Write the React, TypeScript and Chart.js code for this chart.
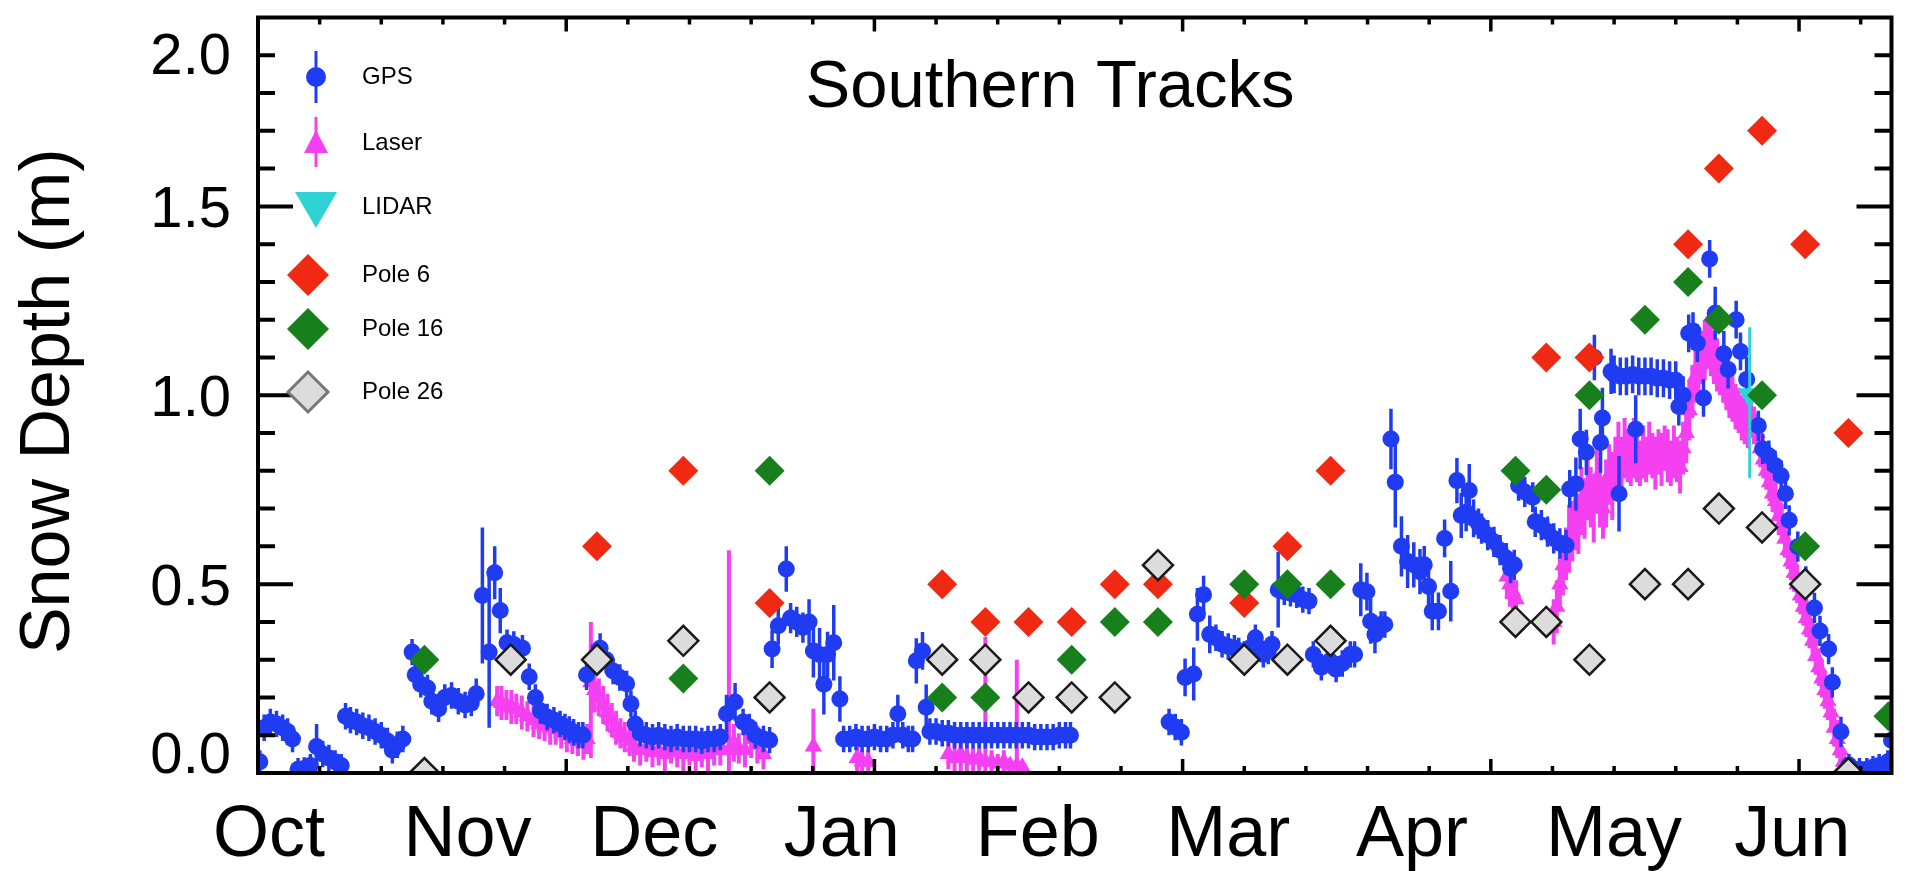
import React, { useEffect, useRef } from 'react';
import { Chart, registerables } from 'chart.js';

Chart.register(...registerables);

// ---------- axis / label data ----------
const X_MIN = 0;
const X_MAX = 265; // days since 1 Oct
const Y_MIN = 0;
const Y_MAX = 2;
const monthLabels = ['Oct', 'Nov', 'Dec', 'Jan', 'Feb', 'Mar', 'Apr', 'May', 'Jun'];
const monthLabelDays = [1.8, 34, 64.3, 94.7, 126.5, 157.4, 187.2, 220, 248.9];
const yTickValues = [0, 0.5, 1.0, 1.5, 2.0];
const yTickLabels = ['0.0', '0.5', '1.0', '1.5', '2.0'];
const yMinorStep = 0.1;
const xMinorStep = 10;
const xMajorStep = 50;
const chartTitle = 'Southern Tracks';
const yAxisTitle = 'Snow Depth (m)';
const legendLabels = ['GPS', 'Laser', 'LIDAR', 'Pole 6', 'Pole 16', 'Pole 26'];

// ---------- series data: [day, depth, err(down), errUp?] ----------
const gps: number[][] = [
  [0.3, 0.03, 0.03], [1, 0.12, 0.035], [2, 0.135, 0.035], [3, 0.13, 0.035], [4, 0.12, 0.035], [4.8, 0.11, 0.035], [5.6, 0.09, 0.035],
  [6.5, 0.01, 0.03], [7.5, 0.012, 0.03], [8.5, 0.02, 0.03], [9.5, 0.07, 0.06], [10.5, 0.05, 0.035], [11.5, 0.04, 0.035], [12.5, 0.03, 0.03], [13.5, 0.02, 0.03],
  [14.2, 0.15, 0.035], [15, 0.14, 0.035], [16, 0.135, 0.035], [17, 0.125, 0.035], [18, 0.12, 0.035], [19, 0.11, 0.035], [20, 0.1, 0.035], [21, 0.085, 0.035], [21.8, 0.06, 0.035], [22.6, 0.075, 0.035], [23.5, 0.09, 0.035],
  [25, 0.32, 0.035], [25.5, 0.26, 0.035], [26.4, 0.235, 0.035], [27.5, 0.225, 0.035], [28.2, 0.19, 0.035], [29.3, 0.17, 0.035], [30.3, 0.2, 0.035], [31.4, 0.205, 0.035], [32.5, 0.19, 0.035], [33.6, 0.18, 0.035], [34.6, 0.185, 0.035], [35.4, 0.21, 0.04],
  [36.4, 0.47, 0.18], [37.5, 0.32, 0.2], [38.4, 0.53, 0.07], [39.3, 0.43, 0.06], [40.4, 0.345, 0.035], [41.5, 0.34, 0.035], [42.9, 0.33, 0.035], [44, 0.255, 0.035], [45, 0.2, 0.035], [45.8, 0.165, 0.035], [46.9, 0.148, 0.035], [48, 0.14, 0.035], [49, 0.13, 0.035], [49.8, 0.122, 0.035], [50.5, 0.115, 0.035], [51.2, 0.108, 0.035], [52, 0.1, 0.035], [52.7, 0.1, 0.035],
  [53.3, 0.26, 0.04], [54.3, 0.3, 0.04], [55.5, 0.33, 0.04], [56.5, 0.3, 0.035], [57.6, 0.27, 0.035], [58.7, 0.253, 0.035], [59.8, 0.236, 0.035], [60.5, 0.183, 0.035], [61.2, 0.13, 0.035],
  [62, 0.105, 0.035], [63, 0.1, 0.035], [64, 0.095, 0.035], [65, 0.1, 0.035], [66, 0.095, 0.035], [67, 0.09, 0.035], [68, 0.095, 0.035], [69, 0.09, 0.035], [70, 0.09, 0.035], [71, 0.09, 0.035], [72, 0.085, 0.035], [73, 0.09, 0.035], [74, 0.09, 0.035], [75, 0.095, 0.035],
  [76, 0.157, 0.05], [77.4, 0.188, 0.05], [78.7, 0.135, 0.035], [79.7, 0.122, 0.035], [80.7, 0.1, 0.035], [82, 0.09, 0.035], [83, 0.087, 0.035],
  [83.4, 0.328, 0.05], [84.4, 0.39, 0.05], [85.7, 0.54, 0.06], [86.4, 0.41, 0.04], [87.4, 0.4, 0.04], [88.4, 0.385, 0.04], [89.4, 0.4, 0.06], [90.1, 0.323, 0.07], [91.1, 0.314, 0.07], [91.8, 0.235, 0.08], [92.4, 0.314, 0.06], [93.4, 0.345, 0.1], [94.4, 0.196, 0.06],
  [95, 0.09, 0.035], [96, 0.09, 0.035], [97, 0.095, 0.035], [98, 0.09, 0.035], [99, 0.09, 0.035], [100, 0.095, 0.035], [101, 0.09, 0.035], [102, 0.09, 0.035], [103, 0.1, 0.035], [103.8, 0.157, 0.05], [104.6, 0.1, 0.035], [105.5, 0.09, 0.035], [106.2, 0.09, 0.035],
  [106.8, 0.297, 0.06], [107.8, 0.323, 0.05], [108.4, 0.174, 0.06],
  [109, 0.11, 0.035], [110, 0.11, 0.035], [111, 0.105, 0.035], [112, 0.105, 0.035], [113, 0.1, 0.035], [114, 0.1, 0.035], [115, 0.1, 0.035], [116, 0.1, 0.035], [117, 0.1, 0.035], [118, 0.1, 0.035], [119, 0.1, 0.035], [120, 0.1, 0.035], [121, 0.1, 0.035], [122, 0.1, 0.035], [123, 0.1, 0.035], [124, 0.1, 0.035], [125, 0.1, 0.035], [126, 0.095, 0.035], [127, 0.095, 0.035], [128, 0.095, 0.035], [129, 0.095, 0.035], [130, 0.1, 0.035], [131, 0.1, 0.035], [131.8, 0.1, 0.035],
  [147.8, 0.135, 0.035], [148.8, 0.122, 0.035], [149.8, 0.108, 0.035],
  [150.4, 0.253, 0.05], [151.8, 0.262, 0.07], [152.4, 0.42, 0.07], [153.4, 0.472, 0.05], [154.4, 0.367, 0.05], [155.4, 0.358, 0.035], [156.4, 0.341, 0.035], [157.4, 0.335, 0.035], [158.4, 0.33, 0.035], [159.1, 0.323, 0.035], [160, 0.314, 0.035], [160.8, 0.33, 0.035], [161.8, 0.358, 0.035], [162.5, 0.33, 0.035], [163.1, 0.314, 0.035], [163.9, 0.323, 0.035], [164.5, 0.341, 0.035], [165.5, 0.485, 0.1], [166.5, 0.48, 0.035], [167.5, 0.476, 0.035], [168.5, 0.472, 0.035], [169.5, 0.459, 0.035], [170.5, 0.455, 0.035],
  [171.2, 0.314, 0.035], [172.5, 0.28, 0.035], [173.9, 0.297, 0.035], [174.9, 0.275, 0.035], [175.9, 0.29, 0.035], [177.2, 0.314, 0.035], [177.9, 0.314, 0.035],
  [178.9, 0.485, 0.07], [179.9, 0.48, 0.05], [180.5, 0.402, 0.06], [181.2, 0.367, 0.05], [182.2, 0.393, 0.035], [182.8, 0.393, 0.035],
  [183.8, 0.884, 0.08], [184.5, 0.77, 0.12], [185.5, 0.6, 0.08], [186.5, 0.56, 0.07], [187.5, 0.551, 0.06], [188.5, 0.533, 0.06], [189.2, 0.551, 0.05], [189.9, 0.494, 0.05], [190.5, 0.428, 0.05], [191.5, 0.428, 0.05], [192.5, 0.621, 0.05], [193.5, 0.481, 0.08],
  [194.5, 0.774, 0.06], [195.2, 0.682, 0.06], [196, 0.69, 0.05], [196.5, 0.748, 0.07], [197.2, 0.674, 0.05], [198, 0.66, 0.04], [198.5, 0.647, 0.04], [199.5, 0.63, 0.04], [200.5, 0.612, 0.04], [201.5, 0.59, 0.04], [202.5, 0.569, 0.04], [203.2, 0.542, 0.04], [203.8, 0.551, 0.04],
  [204.5, 0.761, 0.04], [205.5, 0.744, 0.04], [206.8, 0.73, 0.04], [207.2, 0.665, 0.04], [208.2, 0.656, 0.04], [209.2, 0.639, 0.04], [210.2, 0.621, 0.04], [211.2, 0.608, 0.04], [212.2, 0.603, 0.04], [212.8, 0.752, 0.05], [213.8, 0.765, 0.07],
  [214.5, 0.884, 0.08], [215.5, 0.849, 0.06], [216.8, 1.1, 0.06], [217.8, 0.875, 0.08], [218.1, 0.94, 0.08], [219.5, 1.063, 0.06], [220.8, 0.739, 0.1], [223.5, 0.91, 0.09],
  [220, 1.055, 0.05], [221, 1.05, 0.05], [222, 1.05, 0.05], [223, 1.055, 0.05], [224, 1.05, 0.05], [225, 1.05, 0.05], [226, 1.05, 0.05], [227, 1.045, 0.05], [228, 1.045, 0.05], [229, 1.04, 0.05], [230, 1.04, 0.05],
  [230.5, 0.97, 0.05], [231.2, 1.0, 0.05], [232.1, 1.164, 0.05], [232.8, 1.17, 0.05], [233.5, 1.138, 0.05], [234.5, 0.993, 0.05], [235.5, 1.361, 0.05], [236.4, 1.217, 0.07], [237.8, 1.11, 0.06], [238.5, 1.068, 0.05], [239.8, 1.2, 0.05], [240.5, 1.116, 0.05], [241.5, 1.042, 0.06],
  [243.4, 0.919, 0.04], [244.1, 0.858, 0.04], [245.1, 0.84, 0.04], [246.1, 0.814, 0.04], [247.1, 0.787, 0.04], [247.8, 0.739, 0.04], [248.4, 0.669, 0.04], [249.8, 0.599, 0.04], [251.1, 0.507, 0.04], [252.5, 0.437, 0.04], [253.4, 0.376, 0.04], [254.8, 0.328, 0.04], [255.4, 0.24, 0.04], [256.8, 0.109, 0.04], [258.1, 0.021, 0.03],
  [259.8, 0.01, 0.03], [261, 0.01, 0.03], [262, 0.015, 0.03], [263, 0.02, 0.03], [264.4, 0.03, 0.03], [265, 0.087, 0.04],
];

const laser: number[][] = [
  [38.8, 0.19, 0.04], [39.5, 0.185, 0.045], [40.3, 0.18, 0.04], [41.1, 0.175, 0.045], [41.9, 0.17, 0.04], [42.8, 0.16, 0.045], [43.7, 0.15, 0.04], [44.7, 0.14, 0.045], [45.6, 0.13, 0.04], [46.5, 0.125, 0.04], [47.4, 0.12, 0.045], [48.3, 0.115, 0.04], [49.2, 0.105, 0.04], [50.1, 0.1, 0.045], [51, 0.09, 0.04], [51.9, 0.085, 0.04], [52.8, 0.08, 0.045],
  [53.4, 0.09, 0.04], [54, 0.24, 0.2, 0.16], [54.6, 0.22, 0.06], [55.3, 0.2, 0.05], [56, 0.18, 0.05], [56.7, 0.16, 0.05], [57.4, 0.14, 0.045], [58.1, 0.12, 0.045], [58.8, 0.105, 0.04], [59.5, 0.095, 0.04], [60.3, 0.085, 0.04],
  [61, 0.07, 0.04], [62, 0.06, 0.04], [63, 0.065, 0.035], [64, 0.055, 0.04], [65, 0.06, 0.04], [66, 0.05, 0.045], [67, 0.06, 0.035], [68, 0.055, 0.04], [69, 0.05, 0.045], [70, 0.06, 0.04], [71, 0.045, 0.045], [72, 0.055, 0.04], [73, 0.05, 0.045], [74, 0.06, 0.04], [75, 0.07, 0.05],
  [76.4, 0.06, 0.06, 0.53], [77.2, 0.08, 0.05], [78, 0.065, 0.04], [79, 0.06, 0.045], [80, 0.09, 0.05], [81, 0.075, 0.05], [82, 0.05, 0.04],
  [90.1, 0.07, 0.07, 0.1], [97.2, 0.04, 0.04], [98, 0.03, 0.03], [99, 0.03, 0.03],
  [112, 0.05, 0.04], [113, 0.04, 0.04], [114, 0.05, 0.045], [115, 0.04, 0.04], [116, 0.035, 0.035], [117, 0.04, 0.04], [118, 0.03, 0.03, 0.33], [119, 0.03, 0.03], [120, 0.025, 0.025], [121, 0.03, 0.03], [122, 0.02, 0.02], [123.1, 0.02, 0.02, 0.28], [124, 0.015, 0.015],
  [202.6, 0.52, 0.06], [203.1, 0.5, 0.06], [203.6, 0.48, 0.06], [204.1, 0.46, 0.05],
  [210.2, 0.4, 0.06], [210.7, 0.44, 0.07], [211.2, 0.5, 0.07], [211.7, 0.55, 0.08], [212.2, 0.58, 0.07], [212.7, 0.62, 0.09], [213.2, 0.64, 0.08], [213.7, 0.68, 0.09], [214.2, 0.66, 0.08], [214.7, 0.72, 0.09], [215.2, 0.7, 0.08], [215.7, 0.76, 0.09], [216.2, 0.73, 0.08], [216.7, 0.7, 0.09], [217.2, 0.78, 0.08], [217.7, 0.74, 0.09], [218.2, 0.7, 0.08], [218.7, 0.74, 0.09], [219.2, 0.79, 0.08], [219.7, 0.76, 0.09],
  [220.2, 0.81, 0.08], [220.7, 0.84, 0.09], [221.2, 0.82, 0.07], [221.7, 0.86, 0.08], [222.2, 0.84, 0.07], [222.7, 0.83, 0.07], [223.2, 0.86, 0.08], [223.7, 0.84, 0.07], [224.2, 0.82, 0.06], [224.7, 0.85, 0.07], [225.2, 0.83, 0.06], [225.7, 0.86, 0.07], [226.2, 0.84, 0.06], [226.7, 0.82, 0.07], [227.2, 0.85, 0.06], [227.7, 0.83, 0.07], [228.2, 0.86, 0.06], [228.7, 0.84, 0.07], [229.2, 0.82, 0.06], [229.7, 0.85, 0.07], [230.2, 0.83, 0.06], [230.7, 0.81, 0.07], [231.2, 0.86, 0.07], [231.7, 0.9, 0.08],
  [232.2, 0.96, 0.08], [232.7, 1.01, 0.07], [233.2, 1.05, 0.07], [233.7, 1.08, 0.07], [234.2, 1.1, 0.07], [234.7, 1.12, 0.08], [235.2, 1.14, 0.07], [235.7, 1.12, 0.07], [236.2, 1.1, 0.07], [236.7, 1.08, 0.07], [237.2, 1.06, 0.06], [237.7, 1.04, 0.06], [238.2, 1.02, 0.06], [238.7, 1.0, 0.06], [239.2, 0.99, 0.06], [239.7, 0.97, 0.06], [240.2, 0.96, 0.06], [240.7, 0.94, 0.06], [241.2, 0.93, 0.06], [241.7, 0.92, 0.06], [242.2, 0.95, 0.06], [242.7, 0.92, 0.05],
  [243.2, 0.9, 0.05], [243.7, 0.86, 0.05], [244.2, 0.83, 0.05], [244.7, 0.8, 0.05], [245.2, 0.77, 0.05], [245.7, 0.74, 0.05], [246.2, 0.72, 0.05], [246.7, 0.68, 0.05], [247.2, 0.66, 0.05], [247.7, 0.62, 0.05], [248.2, 0.59, 0.05], [248.7, 0.56, 0.05], [249.2, 0.53, 0.05], [249.7, 0.5, 0.05], [250.2, 0.47, 0.05], [250.7, 0.44, 0.05], [251.2, 0.41, 0.05], [251.7, 0.38, 0.05], [252.2, 0.35, 0.05], [252.7, 0.31, 0.05], [253.2, 0.28, 0.05], [253.7, 0.25, 0.05], [254.2, 0.22, 0.05], [254.7, 0.19, 0.05], [255.2, 0.16, 0.05], [255.7, 0.12, 0.05], [256.2, 0.09, 0.05], [256.7, 0.06, 0.04], [257.2, 0.03, 0.03], [257.7, 0.01, 0.02],
];

const lidar: number[][] = [[242, 1.0, 0.22, 0.18]];

const pole6: number[][] = [
  [55, 0.6], [69, 0.8], [83, 0.45], [111, 0.5], [118, 0.4], [125, 0.4], [132, 0.4], [139, 0.5], [146, 0.5], [160, 0.45], [167, 0.6], [174, 0.8],
  [209, 1.1], [216, 1.1], [232, 1.4], [237, 1.6], [244, 1.7], [251, 1.4], [258, 0.9],
];
const pole16: number[][] = [
  [27, 0.3], [69, 0.25], [83, 0.8], [111, 0.2], [118, 0.2], [132, 0.3], [139, 0.4], [146, 0.4], [160, 0.5], [167, 0.5], [174, 0.5],
  [204, 0.8], [209, 0.75], [216, 1.0], [225, 1.2], [232, 1.3], [237, 1.2], [244, 1.0], [251, 0.6], [264.5, 0.15],
];
const pole26: number[][] = [
  [27, 0.0], [41, 0.3], [55, 0.3], [69, 0.35], [83, 0.2], [111, 0.3], [118, 0.3], [125, 0.2], [132, 0.2], [139, 0.2], [146, 0.55], [160, 0.3], [167, 0.3], [174, 0.35],
  [204, 0.4], [209, 0.4], [216, 0.3], [225, 0.5], [232, 0.5], [237, 0.7], [244, 0.65], [251, 0.5], [258, 0.0],
];

// ---------- styles ----------
const FONT = '"Liberation Sans", Arial, Helvetica, sans-serif';
const C_GPS = '#1f3cf2';
const C_LASER = '#f540f2';
const C_LIDAR = '#2fd3d6';
const C_P6 = '#f02a12';
const C_P16 = '#17801c';
const C_P26 = '#dcdcdc';

const toPts = (arr: number[][]) => arr.map((r) => ({ x: r[0], y: r[1] }));
const toBars = (arr: number[][]) => arr.map((r) => [r[0], r[1] - (r[2] ?? 0), r[1] + (r[3] ?? r[2] ?? 0)]);

const errBars: Record<string, { bars: number[][]; color: string; width: number }> = {
  GPS: { bars: toBars(gps), color: C_GPS, width: 3.5 },
  Laser: { bars: toBars(laser), color: C_LASER, width: 4 },
  LIDAR: { bars: toBars(lidar), color: C_LIDAR, width: 3 },
};

const errorBarPlugin = {
  id: 'errorBars',
  beforeDatasetDraw(chart: any, args: any) {
    const ds = chart.data.datasets[args.index];
    const eb = errBars[ds.label];
    if (!eb) return;
    const { ctx, chartArea: a, scales } = chart;
    const xs = scales.x;
    const ys = scales.y;
    ctx.save();
    ctx.beginPath();
    ctx.rect(a.left, a.top, a.right - a.left, a.bottom - a.top);
    ctx.clip();
    ctx.strokeStyle = eb.color;
    ctx.lineWidth = eb.width;
    ctx.beginPath();
    for (const [d, lo, hi] of eb.bars) {
      const px = xs.getPixelForValue(d);
      ctx.moveTo(px, ys.getPixelForValue(lo));
      ctx.lineTo(px, ys.getPixelForValue(hi));
    }
    ctx.stroke();
    ctx.restore();
  },
};

function diamond(ctx: CanvasRenderingContext2D, x: number, y: number, r: number) {
  ctx.beginPath();
  ctx.moveTo(x - r, y);
  ctx.lineTo(x, y - r);
  ctx.lineTo(x + r, y);
  ctx.lineTo(x, y + r);
  ctx.closePath();
}

const framePlugin = {
  id: 'frame',
  afterDraw(chart: any) {
    const { ctx, chartArea: a, scales } = chart;
    const xs = scales.x;
    const ys = scales.y;
    ctx.save();
    ctx.strokeStyle = '#000';
    ctx.fillStyle = '#000';

    // y ticks (left & right), inward
    ctx.lineWidth = 4;
    ctx.beginPath();
    const nY = Math.round((Y_MAX - Y_MIN) / yMinorStep);
    for (let i = 1; i < nY; i++) {
      const v = Y_MIN + i * yMinorStep;
      const py = ys.getPixelForValue(v);
      const major = i % 5 === 0;
      const len = major ? 35 : 17;
      ctx.moveTo(a.left, py);
      ctx.lineTo(a.left + len, py);
      ctx.moveTo(a.right, py);
      ctx.lineTo(a.right - len, py);
    }
    ctx.stroke();

    // x ticks (top & bottom), inward
    ctx.lineWidth = 3.5;
    ctx.beginPath();
    for (let d = X_MIN + xMinorStep; d < X_MAX; d += xMinorStep) {
      const px = xs.getPixelForValue(d);
      const len = d % xMajorStep === 0 ? 14 : 7;
      ctx.moveTo(px, a.bottom);
      ctx.lineTo(px, a.bottom - len);
      ctx.moveTo(px, a.top);
      ctx.lineTo(px, a.top + len);
    }
    ctx.stroke();

    // frame
    ctx.lineWidth = 4;
    ctx.strokeRect(a.left, a.top, a.right - a.left, a.bottom - a.top);

    // y tick labels
    ctx.font = `58px ${FONT}`;
    ctx.textAlign = 'right';
    ctx.textBaseline = 'alphabetic';
    yTickValues.forEach((v, i) => {
      let base = ys.getPixelForValue(v) + 21;
      if (v === Y_MAX) base = a.top + 56;
      if (v === Y_MIN) base = a.bottom;
      ctx.fillText(yTickLabels[i], 231, base);
    });

    // x month labels
    ctx.font = `72px ${FONT}`;
    ctx.textAlign = 'center';
    monthLabelDays.forEach((d, i) => {
      ctx.fillText(monthLabels[i], xs.getPixelForValue(d), a.bottom + 83);
    });

    // y axis title
    ctx.save();
    ctx.font = `70px ${FONT}`;
    ctx.translate(69, (a.top + a.bottom) / 2 + 6);
    ctx.rotate(-Math.PI / 2);
    ctx.textAlign = 'center';
    ctx.fillText(yAxisTitle, 0, 0);
    ctx.restore();

    // title
    ctx.font = `67px ${FONT}`;
    ctx.textAlign = 'center';
    ctx.fillText(chartTitle, 1050, 107);

    // legend
    const lx = 316;
    const ly = [77, 143, 207, 275, 329, 392];
    // GPS
    ctx.strokeStyle = C_GPS;
    ctx.fillStyle = C_GPS;
    ctx.lineWidth = 3;
    ctx.beginPath();
    ctx.moveTo(lx, ly[0] - 26);
    ctx.lineTo(lx, ly[0] + 26);
    ctx.stroke();
    ctx.beginPath();
    ctx.arc(lx, ly[0], 10, 0, Math.PI * 2);
    ctx.fill();
    // Laser
    ctx.strokeStyle = C_LASER;
    ctx.fillStyle = C_LASER;
    ctx.beginPath();
    ctx.moveTo(lx, ly[1] - 26);
    ctx.lineTo(lx, ly[1] + 24);
    ctx.stroke();
    ctx.beginPath();
    ctx.moveTo(lx, ly[1] - 13);
    ctx.lineTo(lx + 12, ly[1] + 10);
    ctx.lineTo(lx - 12, ly[1] + 10);
    ctx.closePath();
    ctx.fill();
    // LIDAR
    ctx.fillStyle = C_LIDAR;
    ctx.beginPath();
    ctx.moveTo(lx - 21, ly[2] - 15);
    ctx.lineTo(lx + 21, ly[2] - 15);
    ctx.lineTo(lx, ly[2] + 21);
    ctx.closePath();
    ctx.fill();
    // Poles
    const px = 308;
    ctx.fillStyle = C_P6;
    diamond(ctx, px, ly[3], 21);
    ctx.fill();
    ctx.fillStyle = C_P16;
    diamond(ctx, px, ly[4], 21);
    ctx.fill();
    ctx.fillStyle = C_P26;
    diamond(ctx, px, ly[5], 20);
    ctx.fill();
    ctx.strokeStyle = '#777';
    ctx.lineWidth = 3;
    ctx.stroke();

    ctx.fillStyle = '#000';
    ctx.font = `24px ${FONT}`;
    ctx.textAlign = 'left';
    ctx.textBaseline = 'middle';
    legendLabels.forEach((t, i) => ctx.fillText(t, 362, ly[i]));
    ctx.restore();
  },
};

export default function App() {
  const canvasRef = useRef<HTMLCanvasElement | null>(null);

  useEffect(() => {
    document.body.style.margin = '0';
    const canvas = canvasRef.current;
    if (!canvas) return;
    const chart = new Chart(canvas, {
      type: 'scatter',
      data: {
        datasets: [
          {
            label: 'Pole 26', data: toPts(pole26), order: 0, pointStyle: 'rectRot', pointRadius: 15,
            backgroundColor: C_P26, borderColor: '#1a1a1a', borderWidth: 2.5, clip: 0,
          },
          {
            label: 'Pole 16', data: toPts(pole16), order: 1, pointStyle: 'rectRot', pointRadius: 15,
            backgroundColor: C_P16, borderColor: C_P16, borderWidth: 0, clip: 0,
          },
          {
            label: 'Pole 6', data: toPts(pole6), order: 2, pointStyle: 'rectRot', pointRadius: 15,
            backgroundColor: C_P6, borderColor: C_P6, borderWidth: 0, clip: 0,
          },
          {
            label: 'LIDAR', data: toPts(lidar), order: 3, pointStyle: 'triangle', rotation: 180, pointRadius: 14,
            backgroundColor: C_LIDAR, borderColor: C_LIDAR, borderWidth: 0, clip: 0,
          },
          {
            label: 'GPS', data: toPts(gps), order: 4, pointStyle: 'circle', pointRadius: 8.5,
            backgroundColor: C_GPS, borderColor: C_GPS, borderWidth: 0, clip: 0,
          },
          {
            label: 'Laser', data: toPts(laser), order: 5, pointStyle: 'triangle', pointRadius: 10,
            backgroundColor: C_LASER, borderColor: C_LASER, borderWidth: 0, clip: 0,
          },
        ] as any,
      },
      options: {
        animation: false,
        responsive: false,
        devicePixelRatio: 1,
        events: [],
        layout: { padding: { left: 258, top: 12, right: 3, bottom: 98 } },
        scales: {
          x: { type: 'linear', min: X_MIN, max: X_MAX, display: false },
          y: { type: 'linear', min: Y_MIN, max: Y_MAX, display: false },
        },
        plugins: { legend: { display: false }, tooltip: { enabled: false }, title: { display: false } },
      },
      plugins: [errorBarPlugin, framePlugin],
    });
    return () => chart.destroy();
  }, []);

  return (
    <div style={{ position: 'fixed', left: 0, top: 0, width: 1909, height: 871, background: '#fff' }}>
      <canvas ref={canvasRef} width={1909} height={871} style={{ display: 'block' }} />
    </div>
  );
}
